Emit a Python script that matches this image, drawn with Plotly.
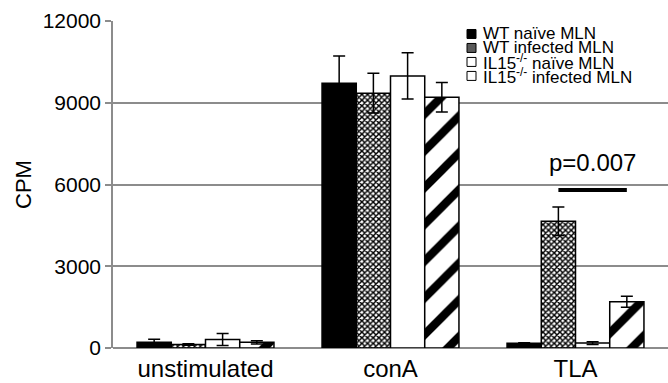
import plotly.graph_objects as go

categories = ["unstimulated", "conA", "TLA"]
series_names = ["WT naïve MLN", "WT infected MLN",
                "IL15<sup>-/-</sup> naïve MLN", "IL15<sup>-/-</sup> infected MLN"]
wt_naive = [210, 9720, 170]
wt_naive_err = [110, 1000, 20]
wt_infected = [130, 9350, 4650]
wt_infected_err = [30, 730, 520]
il15_naive = [310, 9985, 180]
il15_naive_err = [220, 850, 50]
il15_infected = [210, 9200, 1700]
il15_infected_err = [60, 540, 200]
y_ticks = [0, 3000, 6000, 9000, 12000]
p_text = "p=0.007"
p_line_y = 5800
p_text_y = 6800

values = [wt_naive, wt_infected, il15_naive, il15_infected]
errors = [wt_naive_err, wt_infected_err, il15_naive_err, il15_infected_err]

FONT = "Liberation Sans, Arial, Helvetica, sans-serif"
BARGAP = 0.26

# plot area in page pixels (for placing the hand-made legend)
PL, PR, PT, PB = 113, 668, 21, 348.5
def px_x(px):
    return (px - PL) / (PR - PL)
def px_y(py):
    return (PB - py) / (PB - PT)

styles = [
    dict(color="black", pattern=dict(shape="")),
    dict(color="white", pattern=dict(shape="x", fgcolor="black", bgcolor="white",
                                     fgopacity=1, size=4, solidity=0.6)),
    dict(color="white", pattern=dict(shape="")),
    dict(color="white", pattern=dict(shape="/", fgcolor="black", bgcolor="white",
                                     fgopacity=1, size=26, solidity=0.32)),
]
swatch_fill = ["black", "#5a5a5a", "white", "white"]

fig = go.Figure()
for name, vals, errs, st in zip(series_names, values, errors, styles):
    fig.add_trace(go.Bar(
        x=categories, y=vals, name=name, showlegend=False,
        marker=dict(color=st["color"], pattern=st["pattern"],
                    line=dict(color="black", width=1.5)),
        error_y=dict(type="data", array=errs, visible=True,
                     color="black", thickness=1.5, width=6),
    ))

# legend drawn as swatches + text (tight line spacing as in the reference)
legend_rows_px = [34, 48, 62, 76]
for name, fill, ry in zip(series_names, swatch_fill, legend_rows_px):
    fig.add_shape(type="rect", xref="paper", yref="paper",
                  x0=px_x(467), x1=px_x(476), y0=px_y(ry + 4.5), y1=px_y(ry - 4.5),
                  fillcolor=fill, line=dict(color="black", width=1))
    fig.add_annotation(xref="paper", yref="paper", x=px_x(481), y=px_y(ry),
                       xanchor="left", yanchor="middle", text=name, showarrow=False,
                       font=dict(family=FONT, size=17, color="black"))

# significance line between WT infected and IL15 infected in TLA group
n = len(series_names)
bw = (1 - BARGAP) / n
tla_idx = categories.index("TLA")
x_left = tla_idx - (1 - BARGAP) / 2 + 1.5 * bw
x_right = tla_idx - (1 - BARGAP) / 2 + 3.5 * bw
fig.add_shape(type="line", xref="x", yref="y", x0=x_left, x1=x_right,
              y0=p_line_y, y1=p_line_y, line=dict(color="black", width=4))
fig.add_annotation(x=(x_left + x_right) / 2, y=p_text_y, xref="x", yref="y",
                   text=p_text, showarrow=False,
                   font=dict(family=FONT, size=24, color="black"))

fig.update_layout(
    width=668, height=383,
    margin=dict(l=113, r=0, t=21, b=35),
    paper_bgcolor="white", plot_bgcolor="white",
    barmode="group", bargap=BARGAP, bargroupgap=0,
    font=dict(family=FONT, color="black"),
    showlegend=False,
    xaxis=dict(range=[-0.5, 2.5], showgrid=False, showline=False, ticks="",
               tickfont=dict(family=FONT, size=24, color="black"), ticklabelstandoff=4),
    yaxis=dict(range=[0, 12000], tickvals=y_ticks, ticktext=[str(v) for v in y_ticks],
               showgrid=True, gridcolor="#8c8c8c", gridwidth=1.5,
               zeroline=True, zerolinecolor="#8c8c8c", zerolinewidth=1.5,
               showline=True, linecolor="#8c8c8c", linewidth=1.5,
               ticks="outside", ticklen=6, tickcolor="#8c8c8c", tickwidth=1.5,
               tickfont=dict(family=FONT, size=21, color="black"),
               title=dict(text="CPM", font=dict(family=FONT, size=22, color="black"), standoff=5)),
)

fig.write_html("out.html", config={"displayModeBar": False},
               post_script="document.body.style.margin='0';")
